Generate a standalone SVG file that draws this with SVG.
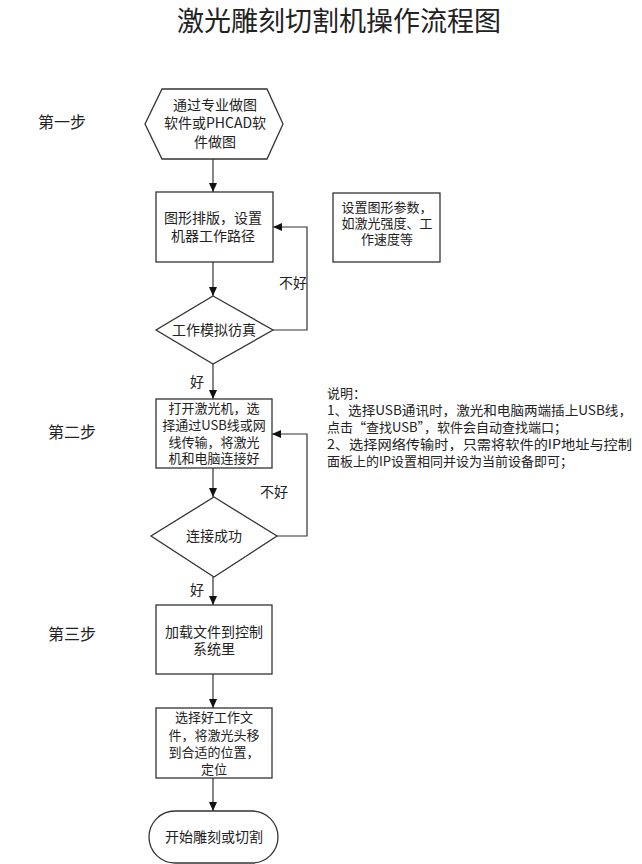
<svg xmlns="http://www.w3.org/2000/svg" width="642" height="864" viewBox="0 0 642 864">
<style>
text{font-family:"Noto Sans CJK SC","Noto Sans",sans-serif;fill:#222;}
.t{font-size:14px;text-anchor:middle;}
.m{font-size:13px;text-anchor:middle;}
.l{font-size:13px;}
.s{font-size:16px;}
.shape{fill:#fff;stroke:#333;stroke-width:1.3;}
.c{fill:none;stroke:#333;stroke-width:1.2;}
</style>
<defs>
<marker id="ah" markerUnits="userSpaceOnUse" markerWidth="9" markerHeight="8" refX="9" refY="4" orient="auto">
<path d="M0,0 L9,4 L0,8 z" fill="#111"/>
</marker>
</defs>
<rect width="642" height="864" fill="#fff"/>
<text x="339" y="31" style="font-size:27px;text-anchor:middle;">激光雕刻切割机操作流程图</text>
<g id="steps">
<text class="s" x="38" y="128">第一步</text>
<text class="s" x="48" y="438">第二步</text>
<text class="s" x="48" y="640">第三步</text>
</g>
<g id="connectors">
<path class="c" d="M213,159 V192" marker-end="url(#ah)"/>
<path class="c" d="M213,262 V296" marker-end="url(#ah)"/>
<path class="c" d="M213,364 V399" marker-end="url(#ah)"/>
<path class="c" d="M273,330 H307 V227 H273" marker-end="url(#ah)"/>
<path class="c" d="M213,468 V497" marker-end="url(#ah)"/>
<path class="c" d="M277,536 H307 V434 H272" marker-end="url(#ah)"/>
<path class="c" d="M213,577 V605" marker-end="url(#ah)"/>
<path class="c" d="M213,674 V708" marker-end="url(#ah)"/>
<path class="c" d="M213,778 V811" marker-end="url(#ah)"/>
<text class="t" x="293" y="288">不好</text>
<text class="t" x="274" y="497">不好</text>
<text class="t" x="197" y="387">好</text>
<text class="t" x="197" y="595">好</text>
</g>
<g id="n1">
<polygon class="shape" points="145,124 162,89 267,89 283,124 267,159 162,159"/>
<text class="t" x="215" y="110">通过专业做图</text>
<text class="t" x="215" y="128">软件或PHCAD软</text>
<text class="t" x="215" y="147">件做图</text>
</g>
<g id="n2">
<rect class="shape" x="156" y="192" width="117" height="70"/>
<text class="t" x="213" y="223">图形排版，设置</text>
<text class="t" x="213" y="241">机器工作路径</text>
</g>
<g id="n_note1">
<rect class="shape" x="333" y="193" width="107" height="69"/>
<text class="m" x="387" y="212">设置图形参数，</text>
<text class="m" x="387" y="228">如激光强度、工</text>
<text class="m" x="387" y="244">作速度等</text>
</g>
<g id="n3">
<polygon class="shape" points="213,296 273,330 213,364 156,330"/>
<text class="t" x="214" y="335">工作模拟彷真</text>
</g>
<g id="n4">
<rect class="shape" x="156" y="399" width="116" height="69"/>
<text class="m" x="214" y="413">打开激光机，选</text>
<text class="m" x="214" y="430">择通过USB线或网</text>
<text class="m" x="214" y="447">线传输，将激光</text>
<text class="m" x="214" y="463">机和电脑连接好</text>
</g>
<g id="n_note2">
<text class="l" x="327" y="398">说明：</text>
<text class="l" x="327" y="415" textLength="305" lengthAdjust="spacingAndGlyphs">1、选择USB通讯时，激光和电脑两端插上USB线，</text>
<text class="l" x="327" y="432">点击“查找USB”，软件会自动查找端口；</text>
<text class="l" x="327" y="449" textLength="305" lengthAdjust="spacingAndGlyphs">2、选择网络传输时，只需将软件的IP地址与控制</text>
<text class="l" x="327" y="466">面板上的IP设置相同并设为当前设备即可；</text>
</g>
<g id="n5">
<polygon class="shape" points="214,497 277,536 214,577 151,536"/>
<text class="t" x="214" y="541">连接成功</text>
</g>
<g id="n6">
<rect class="shape" x="156" y="605" width="116" height="69"/>
<text class="t" x="214" y="637">加载文件到控制</text>
<text class="t" x="214" y="654">系统里</text>
</g>
<g id="n7">
<rect class="shape" x="156" y="708" width="116" height="70"/>
<text class="m" x="214" y="722">选择好工作文</text>
<text class="m" x="214" y="740">件，将激光头移</text>
<text class="m" x="214" y="757">到合适的位置，</text>
<text class="m" x="214" y="774">定位</text>
</g>
<g id="n8">
<rect class="shape" x="149" y="811" width="129" height="52" rx="26"/>
<text class="t" x="214" y="842">开始雕刻或切割</text>
</g>
</svg>
